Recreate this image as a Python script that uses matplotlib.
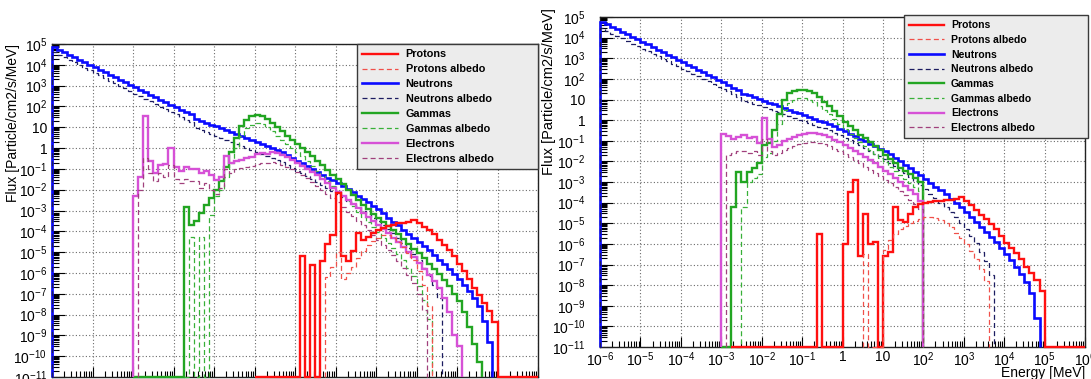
import numpy as np
import matplotlib
matplotlib.use("Agg")
import matplotlib.pyplot as plt
from matplotlib.ticker import LogLocator, FuncFormatter, NullFormatter
from matplotlib.lines import Line2D

plt.rcParams['font.family'] = ['Liberation Sans', 'DejaVu Sans']
plt.rcParams['mathtext.fontset'] = 'custom'
plt.rcParams['mathtext.rm'] = 'Liberation Sans'
plt.rcParams['mathtext.it'] = 'Liberation Sans:italic'
plt.rcParams['mathtext.bf'] = 'Liberation Sans:bold'

# ---- binning: 8 logarithmic bins per decade from 1e-6 to 1e6 MeV ----
BINS_PER_DECADE = 8
E_MIN_EXP, E_MAX_EXP = -6, 6
FLUX_MIN, FLUX_MAX = 1e-11, 1e5
edges = np.logspace(E_MIN_EXP, E_MAX_EXP, (E_MAX_EXP - E_MIN_EXP) * BINS_PER_DECADE + 1)

Z = None  # empty bin (drawn on the axis minimum)

# ---- spectra, log10(flux) per bin; *_FROM is log10 of the first bin's lower edge ----
# Left panel
L_PROTONS_FROM = -1.0
L_PROTONS = [Z, Z, Z, Z, Z, Z, Z, Z,
             Z, -5.20, Z, -5.60, Z, -5.45, -4.60, -4.20,
             -2.15, -5.20, -5.45, -4.95, -4.10, -4.40, -4.25, -4.10,
             -3.95, -3.85, -3.75, -3.68, -3.62, -3.58, -3.55, -3.45,
             -3.62, -3.78, -3.95, -4.15, -4.40, -4.65, -4.92, -5.20,
             -5.55, -5.90, -6.30, -6.70, -7.05, -7.45, -7.85, -8.35,
             Z, Z, Z, Z, Z, Z, Z, Z]
L_PROTONS_ALB_FROM = 0.75
L_PROTONS_ALB = [-6.20, -5.70,
                 -5.00, -6.30, -6.00, -5.70, -5.30, -4.95, -4.65, -4.45,
                 -4.30, -4.20, -4.20, -4.30, -4.50, -4.75, -5.05, -5.40,
                 -5.90, -6.60, -7.60]
L_NEUTRONS_FROM = -6.0
L_NEUTRONS = [4.85, 4.73, 4.61, 4.49, 4.37, 4.25, 4.13, 4.01,
              3.89, 3.77, 3.65, 3.53, 3.41, 3.29, 3.17, 3.05,
              2.93, 2.81, 2.69, 2.57, 2.45, 2.33, 2.21, 2.09,
              1.97, 1.85, 1.73, 1.62, 1.40, 1.32, 1.22, 1.13,
              1.04, 0.94, 0.85, 0.75, 0.66, 0.57, 0.47, 0.38,
              0.28, 0.19, 0.10, 0.00, -0.09, -0.19, -0.32, -0.46,
              -0.60, -0.73, -0.87, -1.01, -1.14, -1.28, -1.42, -1.55,
              -1.69, -1.83, -1.97, -2.12, -2.28, -2.44, -2.60, -2.76,
              -2.95, -3.14, -3.34, -3.53, -3.72, -3.92, -4.11, -4.31,
              -4.50, -4.70, -4.92, -5.14, -5.37, -5.59, -5.81, -6.04,
              -6.30, -6.57, -6.85, -7.20, -7.60, -8.30, -9.30]
L_NEUTRONS_ALB_FROM = -6.0
L_NEUTRONS_ALB = [4.62, 4.49, 4.37, 4.24, 4.12, 3.99, 3.87, 3.74,
                  3.62, 3.49, 3.37, 3.24, 3.12, 2.99, 2.87, 2.74,
                  2.62, 2.49, 2.37, 2.24, 2.12, 1.99, 1.87, 1.74,
                  1.62, 1.49, 1.37, 1.24, 0.95, 0.86, 0.76, 0.67,
                  0.57, 0.48, 0.38, 0.29, 0.19, 0.10, 0.00, -0.09,
                  -0.19, -0.28, -0.38, -0.47, -0.57, -0.66, -0.80, -0.94,
                  -1.08, -1.22, -1.36, -1.50, -1.64, -1.78, -1.92, -2.06,
                  -2.20, -2.36, -2.52, -2.68, -2.84, -3.00, -3.17, -3.34,
                  -3.52, -3.70, -3.90, -4.10, -4.32, -4.55, -4.80, -5.10,
                  -5.40, -5.75, -6.15, -6.60, -7.20]
L_GAMMAS_FROM = -4.0
L_GAMMAS = [Z, Z, Z, Z, Z, Z, Z, Z,
            Z, Z, -2.84, -3.70, -3.50, -3.10, -2.75, -2.40,
            -2.00, -1.60, -0.90, -0.20, 0.50, 1.05, 1.35, 1.52,
            1.60, 1.55, 1.40, 1.20, 1.00, 0.80, 0.60, 0.40,
            0.20, 0.00, -0.20, -0.40, -0.60, -0.82, -1.05, -1.28,
            -1.50, -1.75, -2.00, -2.25, -2.50, -2.72, -2.93, -3.15,
            -3.35, -3.55, -3.75, -3.95, -4.15, -4.35, -4.60, -4.85,
            -5.05, -5.30, -5.55, -5.80, -6.05, -6.35, -6.65, -7.00,
            -7.35, -7.90, -8.60, -9.40, -10.30]
L_GAMMAS_ALB_FROM = -2.75
L_GAMMAS_ALB = [Z, -4.25, Z, -4.25, Z, -3.20,
                -2.30, -2.00, -1.40, -0.70, 0.00, 0.60, 0.95, 1.12,
                1.20, 1.15, 1.00, 0.80, 0.60, 0.40, 0.20, 0.00,
                -0.20, -0.40, -0.62, -0.85, -1.08, -1.32, -1.56, -1.80,
                -2.05, -2.30, -2.55, -2.80, -3.05, -3.30, -3.55, -3.80,
                -4.05, -4.30, -4.55, -4.82, -5.10, -5.40, -5.75, -6.15,
                -6.65, -7.30, -8.20]
L_ELECTRONS_FROM = -4.0
L_ELECTRONS = [-2.30, -1.40, 1.55, -0.60, -1.20, -0.80, -0.75, 0.00,
               -0.90, -1.10, -0.90, -1.00, -1.00, -1.20, -1.10, -1.30,
               -1.55, -1.40, -0.40, -0.70, -0.60, -0.55, -0.50, -0.45,
               -0.30, -0.25, -0.30, -0.20, -0.25, -0.35, -0.45, -0.55,
               -0.70, -0.85, -1.00, -1.15, -1.30, -1.50, -1.70, -1.90,
               -2.10, -2.30, -2.50, -2.70, -2.90, -3.10, -3.30, -3.50,
               -3.70, -3.90, -4.10, -4.30, -4.50, -4.75, -5.00, -5.25,
               -5.50, -5.80, -6.10, -6.40, -6.70, -7.20, -7.90, -9.00,
               -9.50]
L_ELECTRONS_ALB_FROM = -3.875
L_ELECTRONS_ALB = [-2.00, -0.50, -1.20, -1.60, -1.20, -1.40, -0.80,
                   -1.50, -1.70, -1.50, -1.60, -1.60, -1.90, -1.70, -2.00,
                   -2.20, -1.90, -1.00, -1.20, -1.00, -0.95, -0.90, -0.85,
                   -0.75, -0.70, -0.70, -0.65, -0.70, -0.80, -0.90, -1.00,
                   -1.15, -1.30, -1.45, -1.62, -1.80, -2.00, -2.20, -2.40,
                   -2.60, -2.82, -3.05, -3.28, -3.50, -3.72, -3.95, -4.18,
                   -4.40, -4.65, -4.90, -5.15, -5.45, -5.75, -6.10, -6.50,
                   -7.00, -7.80]

# Right panel
R_PROTONS_FROM = -2.75
R_PROTONS = [Z, Z, Z, Z, Z, Z,
             Z, Z, Z, Z, Z, Z, Z, Z,
             Z, Z, Z, -5.50, Z, Z, Z, Z,
             -6.00, -3.50, -2.90, -6.60, -4.55, -6.00, -5.90, Z,
             -6.60, -6.40, -4.20, -4.85, -4.95, -4.55, -4.20, -4.05,
             -4.00, -3.97, -3.93, -3.90, -3.88, -3.85, -3.80, -3.72,
             -3.90, -4.10, -4.35, -4.60, -4.80, -5.05, -5.30, -5.60,
             -5.95, -6.20, -6.45, -6.75, -7.10, -7.40, -7.75, -8.30,
             Z, Z, Z, Z, Z, Z, Z, Z]
R_PROTONS_ALB_FROM = 0.5
R_PROTONS_ALB = [-6.50, Z, Z, Z,
                 -6.30, -5.80, -5.50, -5.30, -5.15, -5.00, -4.90, -4.80,
                 -4.72, -4.70, -4.75, -4.85, -5.00, -5.20, -5.45, -5.70,
                 -6.00, -6.35, -6.75, -7.20, -7.80]
R_NEUTRONS_FROM = -6.0
R_NEUTRONS = [4.77, 4.65, 4.52, 4.40, 4.28, 4.16, 4.03, 3.91,
              3.79, 3.67, 3.54, 3.42, 3.30, 3.18, 3.05, 2.93,
              2.81, 2.69, 2.56, 2.44, 2.32, 2.20, 2.07, 1.95,
              1.83, 1.71, 1.58, 1.46, 1.25, 1.20, 1.10, 1.01,
              0.93, 0.84, 0.76, 0.67, 0.58, 0.50, 0.41, 0.33,
              0.24, 0.15, 0.07, -0.02, -0.10, -0.19, -0.30, -0.42,
              -0.54, -0.66, -0.78, -0.90, -1.02, -1.14, -1.26, -1.38,
              -1.50, -1.66, -1.83, -2.00, -2.16, -2.33, -2.50, -2.68,
              -2.86, -3.04, -3.22, -3.40, -3.60, -3.80, -4.00, -4.22,
              -4.45, -4.69, -4.93, -5.18, -5.43, -5.68, -5.93, -6.20,
              -6.48, -6.78, -7.10, -7.45, -7.85, -8.40, -9.60]
R_NEUTRONS_ALB_FROM = -6.0
R_NEUTRONS_ALB = [4.45, 4.33, 4.20, 4.08, 3.96, 3.84, 3.71, 3.59,
                  3.47, 3.35, 3.22, 3.10, 2.98, 2.86, 2.73, 2.61,
                  2.49, 2.37, 2.24, 2.12, 2.00, 1.88, 1.75, 1.63,
                  1.51, 1.39, 1.26, 1.14, 0.95, 0.90, 0.80, 0.71,
                  0.63, 0.54, 0.46, 0.37, 0.28, 0.20, 0.11, 0.03,
                  -0.06, -0.15, -0.23, -0.32, -0.40, -0.50, -0.62, -0.74,
                  -0.86, -0.98, -1.10, -1.22, -1.35, -1.48, -1.62, -1.76,
                  -1.90, -2.06, -2.23, -2.40, -2.58, -2.76, -2.95, -3.15,
                  -3.35, -3.56, -3.78, -4.00, -4.23, -4.47, -4.72, -5.00,
                  -5.30, -5.62, -5.98, -6.38, -6.85, -7.50]
R_GAMMAS_FROM = -3.0
R_GAMMAS = [Z, Z, -4.20, -2.50, -3.00, -2.50, -2.30, -2.10,
            -1.20, -1.10, -0.50, 0.30, 1.00, 1.30, 1.40, 1.45,
            1.45, 1.40, 1.30, 1.10, 0.90, 0.70, 0.45, 0.20,
            -0.10, -0.30, -0.50, -0.70, -0.85, -1.05, -1.25, -1.45,
            -1.70, -1.90, -2.10, -2.30, -2.45, -2.60, -2.80, -3.00]
R_GAMMAS_ALB_FROM = -2.625
R_GAMMAS_ALB = [Z, -4.20, -3.00, -2.80, -2.60,
                -1.80, -1.60, -1.00, -0.20, 0.50, 0.85, 0.98, 1.05,
                1.05, 1.00, 0.90, 0.70, 0.50, 0.30, 0.05, -0.20,
                -0.45, -0.65, -0.85, -1.05, -1.25, -1.45, -1.65, -1.85,
                -2.05, -2.25, -2.45, -2.65, -2.85, -3.05, -3.25, -3.45]
R_ELECTRONS_FROM = -3.0
R_ELECTRONS = [-0.65, -0.75, -0.90, -0.80, -0.70, -0.85, -0.80, -1.10,
               0.10, -0.90, -1.30, -1.20, -1.00, -0.90, -0.80, -0.70,
               -0.65, -0.60, -0.60, -0.65, -0.70, -0.80, -0.95, -1.05,
               -1.20, -1.35, -1.50, -1.65, -1.80, -1.95, -2.10, -2.25,
               -2.45, -2.60, -2.80, -3.00, -3.20, -3.40, -3.60, -3.90]
R_ELECTRONS_ALB_FROM = -2.875
R_ELECTRONS_ALB = [-1.70, -1.60, -1.50, -1.50, -1.60, -1.50, -1.70,
                   -0.90, -1.50, -1.70, -1.60, -1.45, -1.35, -1.25, -1.15,
                   -1.10, -1.05, -1.05, -1.10, -1.15, -1.25, -1.40, -1.50,
                   -1.65, -1.80, -1.95, -2.10, -2.25, -2.40, -2.55, -2.72,
                   -2.90, -3.05, -3.25, -3.45, -3.65, -3.85, -4.05, -4.30]

LEGEND_LABELS = ["Protons", "Protons albedo", "Neutrons", "Neutrons albedo",
                 "Gammas", "Gammas albedo", "Electrons", "Electrons albedo"]

DASH = (0, (4, 2.5))
STYLES = [
    dict(color="#ff1010", lw=1.7, ls="-"),
    dict(color="#f0504a", lw=0.9, ls=DASH),
    dict(color="#0a0aff", lw=1.9, ls="-"),
    dict(color="#1c1c60", lw=0.9, ls=DASH),
    dict(color="#22a522", lw=1.7, ls="-"),
    dict(color="#38b038", lw=0.9, ls=DASH),
    dict(color="#d651d6", lw=1.7, ls="-"),
    dict(color="#a0407c", lw=0.9, ls=DASH),
]


def draw_hist(ax, start_exp, logflux, style, z):
    i0 = int(round((start_exp - E_MIN_EXP) * BINS_PER_DECADE))
    vals = np.array([FLUX_MIN if v is None else 10.0 ** v for v in logflux])
    ax.stairs(vals, edges[i0:i0 + len(vals) + 1], baseline=FLUX_MIN,
              color=style["color"], linewidth=style["lw"], linestyle=style["ls"],
              clip_on=False, zorder=z)


def power_label(v, pos):
    n = int(round(np.log10(v)))
    if n == 0:
        return "1"
    if n == 1:
        return "10"
    return r"$10^{%d}$" % n


def style_axes(ax, ypad, show_xlabels):
    ax.set_xscale("log")
    ax.set_yscale("log")
    ax.set_xlim(10.0 ** E_MIN_EXP, 10.0 ** E_MAX_EXP)
    ax.set_ylim(FLUX_MIN, FLUX_MAX)
    for axis in (ax.xaxis, ax.yaxis):
        axis.set_major_locator(LogLocator(base=10, numticks=100))
        axis.set_minor_locator(LogLocator(base=10, subs=np.arange(2, 10), numticks=400))
        axis.set_minor_formatter(NullFormatter())
        axis.set_major_formatter(FuncFormatter(power_label))
    ax.tick_params(which="both", direction="in", top=False, right=False,
                   width=0.8, color="black", labelsize=10)
    ax.tick_params(axis="y", which="major", length=9, pad=ypad)
    ax.tick_params(axis="y", which="minor", length=5)
    ax.tick_params(axis="x", which="major", length=7, pad=2.5)
    ax.tick_params(axis="x", which="minor", length=4)
    ax.tick_params(axis="x", labelbottom=show_xlabels)
    ax.grid(True, which="major", color="#6a6a6a", linestyle=(0, (1, 2)), linewidth=0.8)
    ax.set_axisbelow(True)
    for sp in ax.spines.values():
        sp.set_color("#222222")
        sp.set_linewidth(1.0)


def add_legend(ax, x0, width, top, fontsize):
    handles = [Line2D([], [], color=s["color"], lw=s["lw"], ls=s["ls"]) for s in STYLES]
    leg = ax.legend(handles, LEGEND_LABELS, loc="upper left",
                    bbox_to_anchor=(x0, 0.0, width, top), mode="expand",
                    borderaxespad=0.0, fancybox=False, framealpha=1.0,
                    prop=dict(family="Liberation Sans", weight="bold", size=fontsize),
                    handlelength=3.3, handletextpad=0.7, labelspacing=0.45,
                    borderpad=0.5)
    fr = leg.get_frame()
    fr.set_facecolor("#ececec")
    fr.set_edgecolor("#3a3a3a")
    fr.set_linewidth(1.0)
    leg.set_zorder(20)


fig = plt.figure(figsize=(10.91, 3.79), dpi=100)
axL = fig.add_axes([52 / 1091, 2 / 379, 486 / 1091, 333 / 379])
axR = fig.add_axes([600 / 1091, 32 / 379, 485 / 1091, 330 / 379])

left_series = [(L_PROTONS_FROM, L_PROTONS), (L_PROTONS_ALB_FROM, L_PROTONS_ALB),
               (L_NEUTRONS_FROM, L_NEUTRONS), (L_NEUTRONS_ALB_FROM, L_NEUTRONS_ALB),
               (L_GAMMAS_FROM, L_GAMMAS), (L_GAMMAS_ALB_FROM, L_GAMMAS_ALB),
               (L_ELECTRONS_FROM, L_ELECTRONS), (L_ELECTRONS_ALB_FROM, L_ELECTRONS_ALB)]
right_series = [(R_PROTONS_FROM, R_PROTONS), (R_PROTONS_ALB_FROM, R_PROTONS_ALB),
                (R_NEUTRONS_FROM, R_NEUTRONS), (R_NEUTRONS_ALB_FROM, R_NEUTRONS_ALB),
                (R_GAMMAS_FROM, R_GAMMAS), (R_GAMMAS_ALB_FROM, R_GAMMAS_ALB),
                (R_ELECTRONS_FROM, R_ELECTRONS), (R_ELECTRONS_ALB_FROM, R_ELECTRONS_ALB)]

for ax, series in ((axL, left_series), (axR, right_series)):
    for k, ((start, logs), style) in enumerate(zip(series, STYLES)):
        z = 5 + k if k >= 2 else 14 + k
        draw_hist(ax, start, logs, style, z)

style_axes(axL, ypad=3.5, show_xlabels=False)
style_axes(axR, ypad=10.5, show_xlabels=True)

axL.set_ylabel("Flux [Particle/cm2/s/MeV]", fontsize=10, loc="top")
axL.yaxis.set_label_coords(-0.066, 1.0)
axR.set_ylabel("Flux [Particle/cm2/s/MeV]", fontsize=10.5, loc="top")
axR.yaxis.set_label_coords(-0.09, 1.027)
axR.set_xlabel("Energy [MeV]", fontsize=10, loc="right")
axR.xaxis.set_label_coords(1.0, -0.058)

add_legend(axL, (357 - 52) / 486, 181 / 486, 1.0, 7.8)
add_legend(axR, (904 - 600) / 485, 184 / 485, 1.006, 7.5)

fig.savefig("out.png", dpi=100)
